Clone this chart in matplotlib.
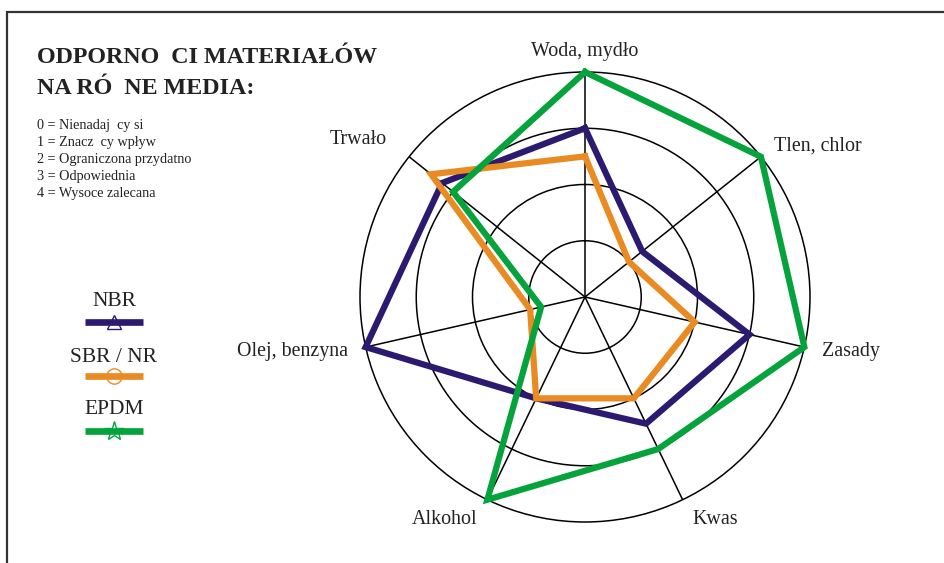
import numpy as np
import matplotlib
matplotlib.use('Agg')
import matplotlib.pyplot as plt
from matplotlib import rcParams

rcParams['font.family'] = ['Liberation Serif', 'DejaVu Serif']

# dane (skala 0-4)
categories = ['Woda, mydło', 'Tlen, chlor', 'Zasady', 'Kwas', 'Alkohol', 'Olej, benzyna', 'Trwało']
nbr = [3.0, 1.3, 3.0, 2.5, 2.0, 4.0, 3.25]
sbr = [2.5, 1.0, 2.0, 2.0, 2.0, 1.0, 3.5]
epdm = [4.0, 4.0, 4.0, 3.0, 4.0, 0.8, 3.0]
series_names = ['NBR', 'SBR / NR', 'EPDM']
scale_lines = ['0 = Nienadaj  cy si', '1 = Znacz  cy wpływ', '2 = Ograniczona przydatno',
               '3 = Odpowiednia', '4 = Wysoce zalecana']
title = 'ODPORNO  CI MATERIAŁÓW\nNA RÓ  NE MEDIA:'

colors = ['#2b1a70', '#ea8a22', '#05a33c']
markers = ['^', 'o', '*']
W, H = 944, 563
fig = plt.figure(figsize=(W / 100, H / 100), dpi=100)

# ramka (lewa i górna krawędź)
fig.add_artist(plt.Rectangle((7 / W, -0.2), 1.5, 1.2 - 12 / H, transform=fig.transFigure,
                             fill=False, edgecolor='#333333', lw=1.6))

# wykres radarowy
cx, cy, R = 585, 297, 225
ax = fig.add_axes([(cx - R) / W, (H - cy - R) / H, 2 * R / W, 2 * R / H], projection='polar')
ax.set_theta_zero_location('N')
ax.set_theta_direction(-1)
n = len(categories)
theta = np.arange(n) * 2 * np.pi / n
ax.set_ylim(0, 4)
ax.set_rgrids([1, 2, 3], labels=[])
ax.set_thetagrids(np.degrees(theta), labels=[])
ax.grid(True, color='black', lw=1.1)
ax.spines['polar'].set_color('black')
ax.spines['polar'].set_linewidth(1.1)
ax.patch.set_alpha(0)

for vals, c in zip([nbr, sbr, epdm], colors):
    v = list(vals) + [vals[0]]
    t = list(theta) + [theta[0]]
    ax.plot(t, v, color=c, lw=4.5, solid_joinstyle='miter', clip_on=False, zorder=3)

lab = [(4.36, 'center'), (4.3, 'left'), (4.33, 'left'), (4.4, 'left'),
       (4.4, 'right'), (4.33, 'right'), (4.5, 'right')]
for t, name, (r, ha) in zip(theta, categories, lab):
    ax.text(t, r, name, ha=ha, va='center', fontsize=14.4, color='#222222')

# tytuł i skala
fig.text(37 / W, 1 - 73 / H, title, fontsize=17.3, fontweight='bold', color='#222222',
         va='center', ha='left', linespacing=1.6)
for i, s in enumerate(scale_lines):
    fig.text(37 / W, 1 - (125 + 17.2 * i) / H, s, fontsize=10.2, color='#222222', va='center')

# legenda
lax = fig.add_axes([85 / W, 1 - 445 / H, 58 / W, 160 / H])
lax.set_xlim(0, 1)
lax.set_ylim(0, 160)
lax.axis('off')
ytext = [143, 87, 35]
yline = [123, 69, 14]
msize = [10, 11, 15]
for name, c, m, ms, yt, yl in zip(series_names, colors, markers, msize, ytext, yline):
    lax.plot([0, 1], [yl, yl], color=c, lw=4.8, solid_capstyle='butt', clip_on=False)
    lax.plot([0.5], [yl + 0.5], marker=m, ms=ms, mfc='none', mec=c, mew=1.0, clip_on=False)
    lax.text(0.5, yt, name, ha='center', va='center', fontsize=15.5, color='#222222')

fig.savefig('out.png', dpi=100)
